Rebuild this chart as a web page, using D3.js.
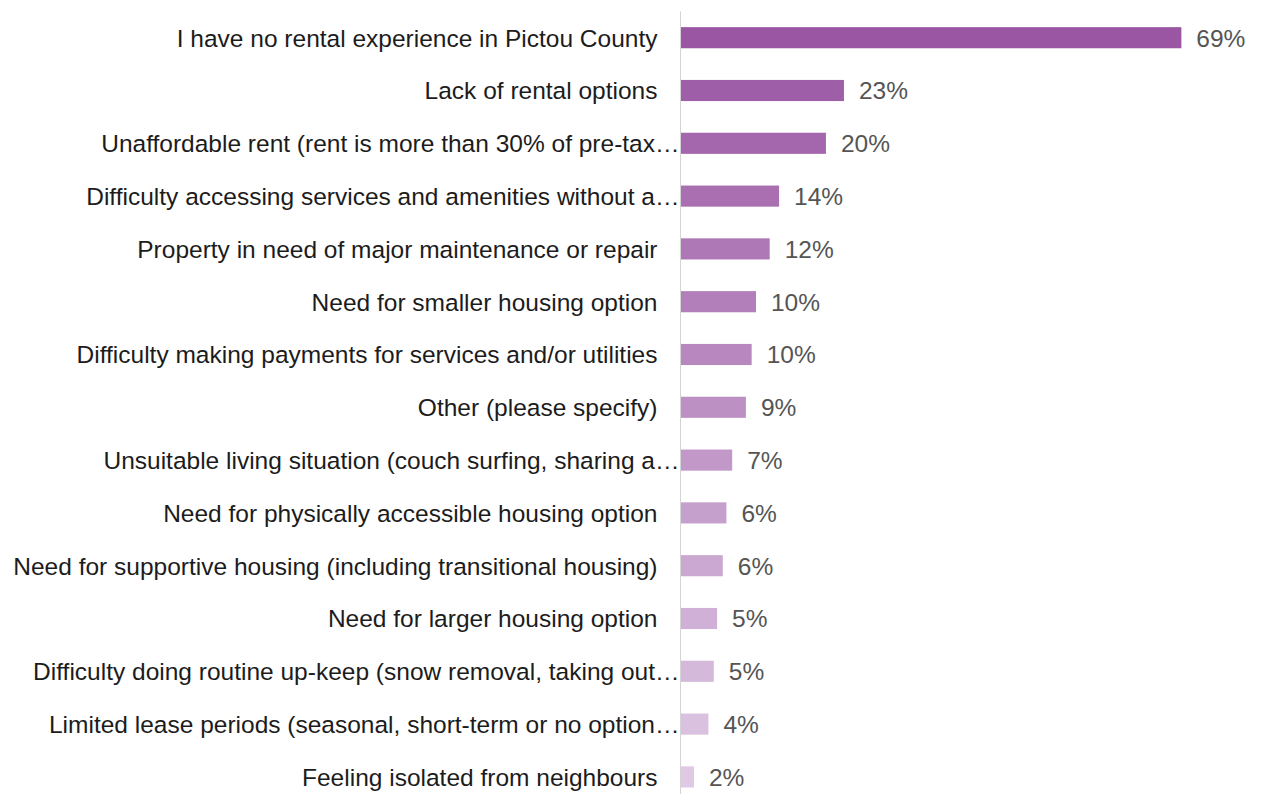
<!DOCTYPE html>
<html lang="en">
<head>
<meta charset="utf-8">
<title>Rental concerns in Pictou County</title>
<script src="https://cdn.jsdelivr.net/npm/d3@7/dist/d3.min.js"></script>
<style>
  body { margin: 0; background: #fff; }
  svg { display: block; }
  .label { font-family: "Liberation Sans", Arial, sans-serif; font-size: 24.5px; fill: #1c1c1c; }
  .value { font-family: "Liberation Sans", Arial, sans-serif; font-size: 24.5px; fill: #555; }
</style>
</head>
<body>
<script>
var categories = [
  "I have no rental experience in Pictou County",
  "Lack of rental options",
  "Unaffordable rent (rent is more than 30% of pre-tax\u2026",
  "Difficulty accessing services and amenities without a\u2026",
  "Property in need of major maintenance or repair",
  "Need for smaller housing option",
  "Difficulty making payments for services and/or utilities",
  "Other (please specify)",
  "Unsuitable living situation (couch surfing, sharing a\u2026",
  "Need for physically accessible housing option",
  "Need for supportive housing (including transitional housing)",
  "Need for larger housing option",
  "Difficulty doing routine up-keep (snow removal, taking out\u2026",
  "Limited lease periods (seasonal, short-term or no option\u2026",
  "Feeling isolated from neighbours"
];
// percent of respondents
var values = [69.4, 22.6, 20.1, 13.6, 12.3, 10.4, 9.8, 9.0, 7.1, 6.3, 5.8, 5.0, 4.55, 3.8, 1.8];

var w = 1264, h = 794;
var axisX = 680.5;

var svg = d3.select("body").append("svg")
    .attr("width", w)
    .attr("height", h);

var xScale = d3.scaleLinear().domain([0, 100]).range([0, 721]);
var yScale = d3.scaleBand()
    .domain(categories)
    .range([11.3, 803.3])
    .paddingInner(0.6)
    .paddingOuter(0.3);

var colour = d3.interpolateRgb("rgb(154,86,163)", "rgb(223,201,228)");

var rows = categories.map(function(c, i) { return { label: c, value: values[i], i: i }; });

// bars
svg.selectAll("rect.bar")
   .data(rows)
   .enter()
   .append("rect")
   .attr("class", "bar")
   .attr("x", axisX + 0.5)
   .attr("y", function(d) { return yScale(d.label); })
   .attr("width", function(d) { return xScale(d.value); })
   .attr("height", yScale.bandwidth())
   .attr("fill", function(d) { return colour(d.i / (rows.length - 1)); });

// axis line
svg.append("line")
   .attr("x1", axisX).attr("x2", axisX)
   .attr("y1", 11.3).attr("y2", 803.3)
   .attr("stroke", "#d4d4d4")
   .attr("stroke-width", 1);

// category labels (truncated ones run up to the axis)
svg.selectAll("text.label")
   .data(rows)
   .enter()
   .append("text")
   .attr("class", "label")
   .attr("text-anchor", "end")
   .attr("x", function(d) { return /\u2026$/.test(d.label) ? axisX - 1 : axisX - 23; })
   .attr("y", function(d) { return yScale(d.label) + yScale.bandwidth() / 2; })
   .attr("dy", "0.36em")
   .text(function(d) { return d.label; });

// value labels
svg.selectAll("text.value")
   .data(rows)
   .enter()
   .append("text")
   .attr("class", "value")
   .attr("x", function(d) { return axisX + 0.5 + xScale(d.value) + 15; })
   .attr("y", function(d) { return yScale(d.label) + yScale.bandwidth() / 2; })
   .attr("dy", "0.36em")
   .text(function(d) { return Math.round(d.value) + "%"; });
</script>
</body>
</html>
